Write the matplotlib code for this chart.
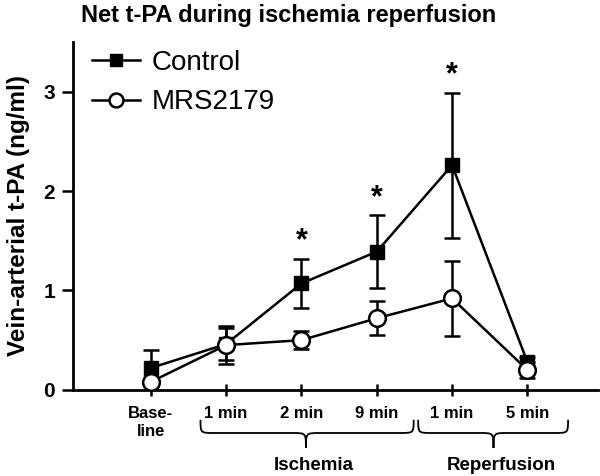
import matplotlib
matplotlib.use('Agg')
from matplotlib import pyplot as plt
from matplotlib.path import Path
from matplotlib.patches import PathPatch
from matplotlib.lines import Line2D
import matplotlib.transforms as mtransforms

# Data
labels = ['Base-\nline', '1 min', '2 min', '9 min', '1 min', '5 min']
control = [0.22, 0.46, 1.07, 1.39, 2.26, 0.28]
control_err = [0.18, 0.16, 0.25, 0.37, 0.73, 0.05]
mrs = [0.08, 0.45, 0.50, 0.72, 0.92, 0.20]
mrs_err = [0.03, 0.19, 0.09, 0.17, 0.38, 0.08]
signif = [2, 3, 4]
phases = ['Ischemia', 'Reperfusion']
phase_spans = [(0.66, 3.49, 2.06), (3.55, 5.54, 4.55)]

plt.rcParams['font.family'] = ['Liberation Sans', 'DejaVu Sans']
plt.rcParams['font.weight'] = 'bold'

fig = plt.figure(figsize=(6.0, 4.76), dpi=100)
ax = fig.add_axes([0.122, 0.181, 0.875, 0.731])
x = list(range(len(labels)))

ax.errorbar(x, control, yerr=control_err, color='black', lw=1.8,
            elinewidth=1.8, capsize=6, capthick=1.8, marker='s', ms=10,
            mfc='black', mec='black', zorder=3)
ax.errorbar(x, mrs, yerr=mrs_err, color='black', lw=1.8,
            elinewidth=1.8, capsize=6, capthick=1.8, marker='o', ms=12,
            mfc='white', mec='black', mew=1.8, zorder=4)

for i in signif:
    ax.text(i, control[i] + control_err[i] + 0.02, '*', ha='center',
            va='bottom', fontsize=22, fontweight='bold')

ax.set_xlim(-1.03, 5.94)
ax.set_ylim(0, 3.5)
ax.set_xticks(x)
ax.set_xticklabels(labels, fontsize=12, fontweight='bold',
                   linespacing=1.25, va='top')
ax.set_yticks([0, 1, 2, 3])
ax.set_yticklabels(['0', '1', '2', '3'], fontsize=15, fontweight='bold')
ax.tick_params(axis='y', direction='out', length=8, width=1.8, pad=5)
ax.tick_params(axis='x', direction='inout', length=9, width=1.8, pad=7)
for s in ['top', 'right']:
    ax.spines[s].set_visible(False)
for s in ['left', 'bottom']:
    ax.spines[s].set_linewidth(2)

ax.set_ylabel('Vein-arterial t-PA (ng/ml)', fontsize=17.5,
              fontweight='bold', labelpad=10)
ax.set_title('Net t-PA during ischemia reperfusion', fontsize=17,
             fontweight='bold', pad=14, x=0.41)

handles = [Line2D([], [], color='black', lw=1.8, marker='s', ms=9,
                  mfc='black', mec='black'),
           Line2D([], [], color='black', lw=1.8, marker='o', ms=10,
                  mfc='white', mec='black', mew=1.8)]
leg = ax.legend(handles, ['Control', 'MRS2179'], loc='upper left',
                bbox_to_anchor=(0.035, 0.977), frameon=False, fontsize=20,
                handlelength=1.75, handletextpad=0.4, labelspacing=0.48,
                borderaxespad=0, borderpad=0)
for t in leg.get_texts():
    t.set_fontweight('normal')

# Curly braces under the x axis
trans = mtransforms.blended_transform_factory(ax.transData, ax.transAxes)
y_top, y_mid, y_tip = -0.086, -0.124, -0.167
for (x0, x1, xm), name in zip(phase_spans, phases):
    r = 0.18
    verts = [(x0, y_top), (x0, y_mid), (x0, y_mid), (x0 + r, y_mid),
             (xm - r, y_mid),
             (xm, y_mid), (xm, y_mid), (xm, y_tip),
             (xm, y_mid), (xm, y_mid), (xm + r, y_mid),
             (x1 - r, y_mid),
             (x1, y_mid), (x1, y_mid), (x1, y_top)]
    codes = [Path.MOVETO, Path.CURVE4, Path.CURVE4, Path.CURVE4,
             Path.LINETO,
             Path.CURVE4, Path.CURVE4, Path.CURVE4,
             Path.CURVE4, Path.CURVE4, Path.CURVE4,
             Path.LINETO,
             Path.CURVE4, Path.CURVE4, Path.CURVE4]
    patch = PathPatch(Path(verts, codes), transform=trans, fill=False,
                      lw=1.3, color='black', clip_on=False)
    ax.add_patch(patch)
    ax.text(xm + 0.1, -0.216, name, transform=trans, ha='center',
            va='center', fontsize=13.5, fontweight='bold')

plt.savefig('out.png', dpi=100)
